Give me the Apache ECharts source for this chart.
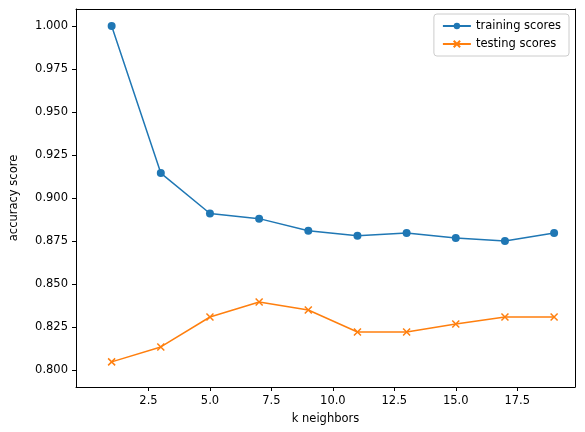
<!DOCTYPE html>
<html><head><meta charset="utf-8">
<script src="https://cdn.jsdelivr.net/npm/echarts@6/dist/echarts.min.js"></script>
<style>html,body{margin:0;background:#fff}#c{width:585px;height:432px}</style>
</head><body><div id="c"></div>
<script>
var kValues = [1, 3, 5, 7, 9, 11, 13, 15, 17, 19];
var trainScores = [1.000, 0.9145, 0.891, 0.888, 0.881, 0.878, 0.8797, 0.8767, 0.875, 0.8797];
var testScores = [0.8047, 0.8134, 0.8308, 0.8395, 0.8349, 0.8221, 0.8221, 0.8267, 0.8308, 0.8308];
var xTicks = [2.5, 5, 7.5, 10, 12.5, 15, 17.5];
var yTicks = [0.8, 0.825, 0.85, 0.875, 0.9, 0.925, 0.95, 0.975, 1.0];

var chart = echarts.init(document.getElementById('c'));
var txt = {color: '#000', fontFamily: 'DejaVu Sans', fontSize: 11.5};
var xRange = {min: -0.45, max: 19.85};
var yRange = {min: 0.7901, max: 1.0099};
chart.setOption({
    animation: false,
    grid: {left: 73, right: 10, top: 9, bottom: 45},
    legend: {
        right: 16, top: 14, orient: 'vertical', itemGap: 6,
        borderColor: '#ccc', borderWidth: 1, borderRadius: 3, padding: [6, 8],
        itemWidth: 28, itemHeight: 8, textStyle: {fontFamily: 'DejaVu Sans', fontSize: 11.5, color: '#000'},
        data: ['training scores', 'testing scores']
    },
    xAxis: [{
        type: 'value', min: xRange.min, max: xRange.max,
        name: 'k neighbors', nameLocation: 'middle', nameGap: 26, nameTextStyle: txt,
        axisLine: {onZero: false, lineStyle: {color: '#000'}},
        axisTick: {show: true, length: 4, customValues: xTicks, lineStyle: {color: '#000'}},
        axisLabel: Object.assign({customValues: xTicks, formatter: function (v) { return v.toFixed(1); }}, txt),
        splitLine: {show: false}
    }, {
        type: 'value', position: 'top', min: xRange.min, max: xRange.max,
        axisLine: {onZero: false, lineStyle: {color: '#000'}},
        axisTick: {show: false}, axisLabel: {show: false}, splitLine: {show: false}
    }],
    yAxis: [{
        type: 'value', min: yRange.min, max: yRange.max,
        name: 'accuracy score', nameLocation: 'middle', nameGap: 56, nameTextStyle: txt,
        axisLine: {show: true, onZero: false, lineStyle: {color: '#000'}},
        axisTick: {show: true, length: 4, customValues: yTicks, lineStyle: {color: '#000'}},
        axisLabel: Object.assign({customValues: yTicks, formatter: function (v) { return v.toFixed(3); }}, txt),
        splitLine: {show: false}
    }, {
        type: 'value', position: 'right', min: yRange.min, max: yRange.max,
        axisLine: {show: true, onZero: false, lineStyle: {color: '#000'}},
        axisTick: {show: false}, axisLabel: {show: false}, splitLine: {show: false}
    }],
    series: [{
        name: 'training scores', type: 'line', color: '#1f77b4',
        symbol: 'circle', symbolSize: 8, lineStyle: {width: 1.5, color: '#1f77b4'},
        data: kValues.map(function (k, i) { return [k, trainScores[i]]; })
    }, {
        name: 'testing scores', type: 'line', color: '#ff7f0e',
        symbol: 'path://M0,0L10,10M10,0L0,10', symbolSize: 7,
        itemStyle: {borderColor: '#ff7f0e', borderWidth: 1.5, color: '#ff7f0e'},
        lineStyle: {width: 1.5, color: '#ff7f0e'},
        data: kValues.map(function (k, i) { return [k, testScores[i]]; })
    }]
});
</script></body></html>
